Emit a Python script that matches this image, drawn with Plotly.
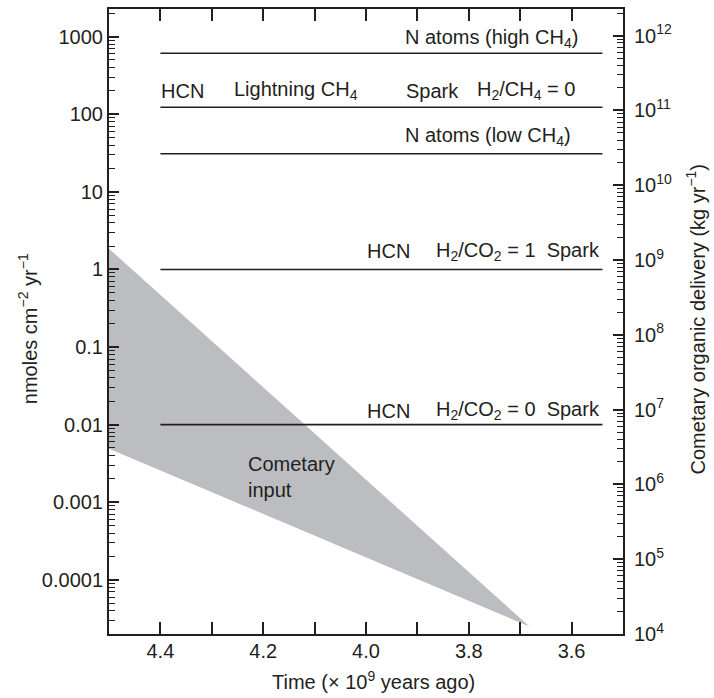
import math
import plotly.graph_objects as go

# ---- data ----
level_names = ["N atoms (high CH4)", "HCN Lightning / Spark H2/CH4=0", "N atoms (low CH4)",
               "HCN H2/CO2=1 Spark", "HCN H2/CO2=0 Spark"]
level_values = [610, 123, 31, 1.0, 0.01]
level_x = [4.4, 3.54]

comet_x = [4.5, 3.682, 4.5]
comet_y = [1.85, 2.5e-5, 0.0049]

x_tickvals = [4.4, 4.2, 4.0, 3.8, 3.6]
x_ticktext = ["4.4", "4.2", "4.0", "3.8", "3.6"]
x_minorvals = [4.3, 4.1, 3.9, 3.7]

y_tickvals = [1e-4, 1e-3, 1e-2, 1e-1, 1, 10, 100, 1000]
y_ticktext = ["0.0001", "0.001", "0.01", "0.1", "1", "10", "100", "1000"]

y2_exponents = [4, 5, 6, 7, 8, 9, 10, 11, 12]
y2_tickvals = [10.0 ** e for e in y2_exponents]
y2_ticktext = ["10<sup>%d</sup>" % e for e in y2_exponents]

ink = "#231f20"
FONT = "Liberation Sans, Arial, sans-serif"
FS = 20

y_minor = [m * 10.0 ** e for e in range(-5, 4) for m in range(2, 10)]
y2_minor = [m * 10.0 ** e for e in range(4, 13) for m in range(2, 10)]

fig = go.Figure()

fig.add_trace(go.Scatter(
    x=comet_x, y=comet_y, fill="toself", fillcolor="#bcbdc0",
    line=dict(width=0, color="#bcbdc0"), mode="lines", hoverinfo="skip", showlegend=False))

for v in level_values:
    fig.add_trace(go.Scatter(x=level_x, y=[v, v], mode="lines",
                             line=dict(color=ink, width=1.6), showlegend=False))

# invisible trace to activate the right axis
fig.add_trace(go.Scatter(x=[4.0], y=[1e8], yaxis="y2", mode="markers",
                         marker=dict(opacity=0), showlegend=False, hoverinfo="skip"))

tf = dict(family=FONT, size=FS, color=ink)

def ann(text, x, y, xanchor="left", yanchor="middle", **kw):
    fig.add_annotation(text=text, x=x, y=y, xref="x", yref="y", showarrow=False,
                       xanchor=xanchor, yanchor=yanchor, font=tf, borderpad=0, **kw)

ann("N atoms (high CH<sub>4</sub>)", 3.586, math.log10(950), xanchor="right")
ann("HCN", 4.4, math.log10(200))
ann("Lightning CH<sub>4</sub>", 4.259, math.log10(200))
ann("Spark", 3.925, math.log10(200))
ann("H<sub>2</sub>/CH<sub>4</sub> = 0", 3.688, math.log10(200), xanchor="center")
ann("N atoms (low CH<sub>4</sub>)", 3.6, math.log10(52), xanchor="right")
ann("HCN", 4.0, math.log10(1.72))
ann("H<sub>2</sub>/CO<sub>2</sub> = 1  Spark", 3.543, math.log10(1.72), xanchor="right")
ann("HCN", 4.0, math.log10(0.0150))
ann("H<sub>2</sub>/CO<sub>2</sub> = 0  Spark", 3.543, math.log10(0.0150), xanchor="right")
ann("Cometary<br>input", 4.232, math.log10(0.0021), align="left")

# axis titles
fig.add_annotation(text="nmoles cm<sup>\u22122</sup> yr<sup>\u22121</sup>", xref="paper", yref="paper",
                   x=-0.158, y=0.489, textangle=-90, showarrow=False, font=tf,
                   xanchor="center", yanchor="middle")
fig.add_annotation(text="Cometary organic delivery (kg yr<sup>\u22121</sup>)", xref="paper", yref="paper",
                   x=1.141, y=0.504, textangle=-90, showarrow=False, font=tf,
                   xanchor="center", yanchor="middle")
fig.add_annotation(text="Time (\u00d7 10<sup>9</sup> years ago)", xref="paper", yref="paper",
                   x=0.514, y=-0.074, showarrow=False, font=tf,
                   xanchor="center", yanchor="middle")

fig.update_layout(
    width=714, height=698,
    margin=dict(l=109, r=91.3, t=7.3, b=64),
    paper_bgcolor="white", plot_bgcolor="white",
    font=tf,
    xaxis=dict(range=[4.5, 3.5], tickmode="array", tickvals=x_tickvals, ticktext=x_ticktext,
               ticks="inside", ticklen=12, tickwidth=1.5, tickcolor=ink,
               showline=True, linewidth=2, linecolor=ink, mirror="ticks",
               showgrid=False, zeroline=False, tickfont=tf, ticklabelstandoff=-2,
               minor=dict(tickmode="array", tickvals=x_minorvals, ticks="inside", ticklen=12,
                          tickwidth=1.5, tickcolor=ink, showgrid=False)),
    yaxis=dict(type="log", range=[-4.698, 3.356], tickmode="array", tickvals=y_tickvals,
               ticktext=y_ticktext, ticks="inside", ticklen=10, tickwidth=1.5, tickcolor=ink,
               showline=True, linewidth=2, linecolor=ink, showgrid=False, zeroline=False,
               tickfont=tf, ticklabelstandoff=0,
               minor=dict(tickmode="array", tickvals=y_minor, ticks="inside", ticklen=6,
                          tickwidth=1, tickcolor=ink, showgrid=False)),
    yaxis2=dict(type="log", range=[4, 12.356], overlaying="y", side="right",
                tickmode="array", tickvals=y2_tickvals, ticktext=y2_ticktext,
                ticks="inside", ticklen=10, tickwidth=1.5, tickcolor=ink,
                showline=True, linewidth=2, linecolor=ink, showgrid=False, zeroline=False,
                tickfont=tf, ticklabelstandoff=5,
                minor=dict(tickmode="array", tickvals=y2_minor, ticks="inside", ticklen=6,
                           tickwidth=1, tickcolor=ink, showgrid=False)),
    showlegend=False,
)

fig.write_html("out.html")
